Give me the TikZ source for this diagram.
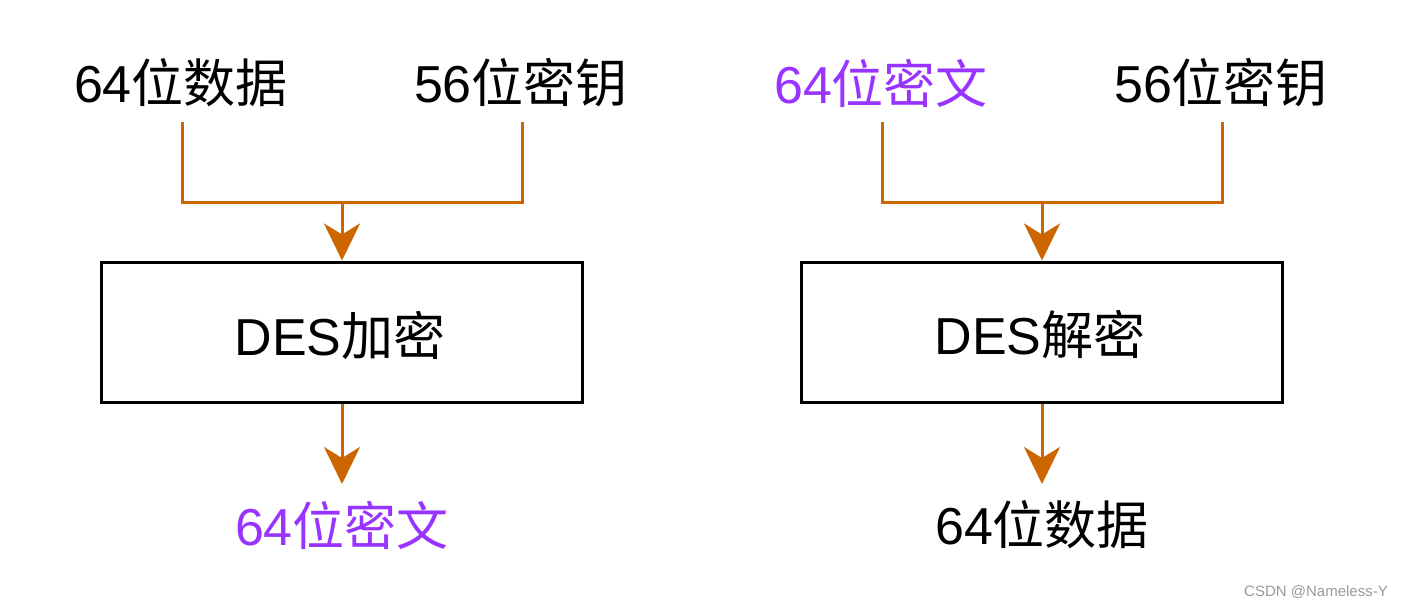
\documentclass[tikz,border=0pt]{standalone}
\usepackage{fontspec}
\setmainfont{Liberation Sans}
\newfontfamily\cjk{Noto Sans CJK SC}
\usetikzlibrary{arrows.meta}
\definecolor{arrowc}{HTML}{CC6600}
\definecolor{purp}{HTML}{9933FF}
\tikzset{
  lbl/.style={inner sep=0pt,font=\fontsize{52}{60}\selectfont},
  procbox/.style={draw=black,line width=3pt,minimum width=481pt,minimum height=140pt,inner sep=0pt},
  boxtext/.style={inner sep=0pt,font=\fontsize{52}{60}\selectfont},
  conn/.style={draw=arrowc,line width=3pt},
  arr/.style={conn,-{Stealth[length=37pt,width=36pt,inset=11pt]}},
}
\begin{document}
\begin{tikzpicture}[x=1pt,y=-1pt]
\useasboundingbox (0,0) rectangle (1404,608);
% left
\node[lbl] (d1) at (181,83) {64{\cjk 位数据}};
\node[lbl] (k1) at (521,83) {56{\cjk 位密钥}};
\node[procbox] (e1) at (342,332) {};
\node[boxtext] (e1t) at (340,335) {DES{\cjk 加密}};
\node[lbl,text=purp] (c1) at (342,525) {64{\cjk 位密文}};
\coordinate (d1b) at (182,122);
\coordinate (k1b) at (522,122);
\coordinate (j1) at (342,202);
\coordinate (c1t) at (342,484);
\draw[conn] (d1b) |- (j1) -| (k1b);
\draw[arr] (j1) -- (e1.north);
\draw[arr] (e1.south) -- (c1t);
% right
\node[lbl,text=purp] (c2) at (881,83) {64{\cjk 位密文}};
\node[lbl] (k2) at (1221,83) {56{\cjk 位密钥}};
\node[procbox] (e2) at (1042,332) {};
\node[boxtext] (e2t) at (1040,335) {DES{\cjk 解密}};
\node[lbl] (d2) at (1042,525) {64{\cjk 位数据}};
\coordinate (c2b) at (882,122);
\coordinate (k2b) at (1222,122);
\coordinate (j2) at (1042,202);
\coordinate (d2t) at (1042,484);
\draw[conn] (c2b) |- (j2) -| (k2b);
\draw[arr] (j2) -- (e2.north);
\draw[arr] (e2.south) -- (d2t);
% watermark
\node[inner sep=0pt,text=black!40,font=\fontsize{15}{17}\selectfont] (wm) at (1316,592) {CSDN @Nameless-Y};
\end{tikzpicture}
\end{document}
